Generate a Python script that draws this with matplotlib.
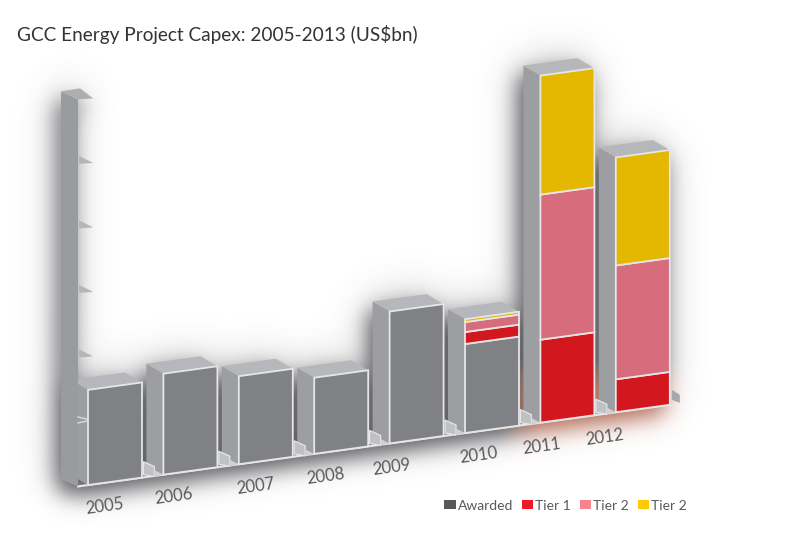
import numpy as np
import matplotlib
matplotlib.use("Agg")
import matplotlib.pyplot as plt
from matplotlib.patches import Polygon, Patch
from matplotlib.path import Path
from matplotlib.transforms import Affine2D

# ---- data ----
years = ["2005", "2006", "2007", "2008", "2009", "2010", "2011", "2012"]
awarded = [29.5, 31.3, 27.3, 23.6, 40.9, 27.6, 0, 0]
tier1 = [0, 0, 0, 0, 0, 3.7, 25.7, 10.2]
tier2a = [0, 0, 0, 0, 0, 3.1, 45.0, 35.3]
tier2b = [0, 0, 0, 0, 0, 0.9, 36.9, 33.5]
wall_ticks = [20, 40, 60, 80, 100, 120]
legend_labels = ["Awarded", "Tier 1", "Tier 2", "Tier 2"]
title = "GCC Energy Project Capex: 2005-2013 (US$bn)"

# ---- style and layout ----
FONT = "Lato"
FACE = ["#808184", "#d2171f", "#d66c7c", "#e4b700"]
LEG = ["#58595b", "#ed1c24", "#f6838d", "#ffcb05"]
EDGE = "#e6e6e8"
SIDE, TOP = "#9d9ea1", "#b6b7ba"
BAR_W = 0.716
WALL_X = -0.49
DEPTH = np.array([-17.0, -10.0])
label_xy = [(105, 506), (174, 496), (256, 486), (326, 476),
            (392, 467), (479, 455), (542, 446), (605, 437)]

fig = plt.figure(figsize=(8, 5.5), dpi=100)
ax = fig.add_axes([0, 0, 1, 1])
ax.set_xlim(0, 800)
ax.set_ylim(550, 0)
ax.set_autoscale_on(False)
ax.axis("off")

# sheared chart plane: (category, value) -> picture position
shear = Affine2D.from_values(75.4, -10.4, 0, -3.225, 115, 481.3)
plane = shear + ax.transData


def P(x, v):
    return shear.transform((x, v))


n = len(years)
idx = np.arange(n)
stack = [np.array(s, float) for s in (awarded, tier1, tier2a, tier2b)]
totals = np.sum(stack, axis=0)

# silhouettes
sides, tops = [], []
for i in idx:
    l, r = i - BAR_W / 2, i + BAR_W / 2
    fb, ft, rt = P(l, 0), P(l, totals[i]), P(r, totals[i])
    sides.append(np.array([fb, ft, ft + DEPTH, fb + DEPTH]))
    tops.append(np.array([ft, rt, rt + DEPTH, ft + DEPTH]))

wb, wt = P(WALL_X, 0), P(WALL_X, wall_ticks[-1])
wall = np.array([wb, wt, wt + DEPTH * [1, .8], wb + DEPTH * [1, .7]])
cap = np.array([wt, wt + [15, -1], wt + [2, -11], wt + DEPTH * [1, .8]])

# soft shadow
gx, gy = np.meshgrid(np.arange(800) + .5, np.arange(550) + .5)
pts = np.c_[gx.ravel(), gy.ravel()]
mask = np.zeros(gx.shape)
end = P(n - 1 + BAR_W / 2, 0)
floor = np.array([wb, end, end + [0, -25], wb + [0, -25]])
fronts = [np.array([P(i - BAR_W / 2, 0), P(i + BAR_W / 2, 0),
                    P(i + BAR_W / 2, totals[i]), P(i - BAR_W / 2, totals[i])]) for i in idx]
for poly in sides + tops + fronts + [wall, cap, floor]:
    mask[Path(poly).contains_points(pts).reshape(gx.shape)] = 1
fy = np.fft.fftfreq(550)[:, None]
fx = np.fft.fftfreq(800)[None, :]


def soft(sig, dx, dy):
    kern = np.exp(-2 * (np.pi * sig) ** 2 * (fx ** 2 + fy ** 2))
    shift = np.exp(-2j * np.pi * (fx * dx + fy * dy))
    return np.clip(np.fft.ifft2(np.fft.fft2(mask) * kern * shift).real, 0, 1)


near, wide = soft(11, -5, 10), soft(20, -4, 0)
t = np.clip((gx - 500) / 40, 0, 1) * np.clip((gy - 360) / 30, 0, 1)
img = np.zeros(gx.shape + (4,))
grey, red = np.array([.27, .27, .29]), np.array([.62, .27, .16])
img[..., :3] = grey * (1 - t[..., None]) + red * t[..., None]
img[..., 3] = 1 - (1 - near ** 1.1 * (0.86 - 0.12 * t)) * (1 - wide * 0.3)
ax.imshow(img, extent=(0, 800, 550, 0), aspect="auto", zorder=0, interpolation="bilinear")
ax.set_xlim(0, 800)
ax.set_ylim(550, 0)

# base line under the bars and the far end of the floor
ax.plot(*np.array([wb, end]).T, color=EDGE, lw=1.6, zorder=1.5)
ax.add_patch(Polygon(np.array([end + [2, -15], end + [10, -10], end + [10, -2], end + [2, -5]]),
                     fc="#a6a7aa", ec="none", zorder=1.6))

# depth faces of bars, with the small floor steps in front of them
for i in idx:
    ax.add_patch(Polygon(sides[i], fc=SIDE, ec="none", zorder=2))
    ax.add_patch(Polygon(tops[i], fc=TOP, ec="none", zorder=2))
    fb = P(i - BAR_W / 2, 0)
    if i > 0:
        ax.add_patch(Polygon(np.array([fb + [-20, -13], fb + [-9, -8], fb + [-9, 2], fb + [-20, 0]]),
                             fc="#c0c1c3", ec="#e6e6e8", lw=.9, zorder=2.5))
        ax.add_patch(Polygon(np.array([fb + [-9, -5], fb + [0, 0], fb + [-9, 2]]),
                             fc="#cfd0d2", ec="none", zorder=2.5))

# wall with its ticks
ax.add_patch(Polygon(wall, fc="#9a9b9e", ec="none", zorder=3))
ax.add_patch(Polygon(cap, fc="#adaeb1", ec="none", zorder=3))
for v in wall_ticks[1:-1]:
    b = P(WALL_X, v)
    ax.add_patch(Polygon(np.array([b + [1, -8], b + [15, -1], b + [1, 0]]),
                         fc="#b4b5b8", ec="none", zorder=3))
b = P(WALL_X, wall_ticks[0])
ax.plot(*np.array([b + [0, -5], b + [15, -1]]).T, color="#d8d9db", lw=1, zorder=3.1)
ax.plot(*np.array([b + [0, 1], b + [10, -1]]).T, color="#d8d9db", lw=1, zorder=3.1)

# front faces
bottom = np.zeros(n)
for vals, col in zip(stack, FACE):
    use = vals > 0
    ax.bar(idx[use], vals[use], BAR_W, bottom=bottom[use], color=col, edgecolor=EDGE,
           linewidth=1.3, transform=plane, zorder=4)
    bottom += vals

# texts
for lab, (x, y) in zip(years, label_xy):
    ax.text(x, y, lab, family=FONT, fontsize=12, color="#58595b", rotation=8,
            ha="center", va="center", rotation_mode="anchor", zorder=5)
ax.text(17, 34, title, family=FONT, fontsize=13.7, color="#333333", ha="left", va="center", zorder=5)

handles = [Patch(fc=c, ec="none") for c in LEG]
ax.legend(handles, legend_labels, ncol=4, loc="center left", bbox_to_anchor=(444 / 800, 1 - 505.5 / 550),
          frameon=False, borderpad=0, borderaxespad=0, handlelength=.85, handleheight=.65,
          handletextpad=.15, columnspacing=.6, labelcolor="#58595b",
          prop={"family": FONT, "size": 10})

fig.savefig("out.png", dpi=100)
